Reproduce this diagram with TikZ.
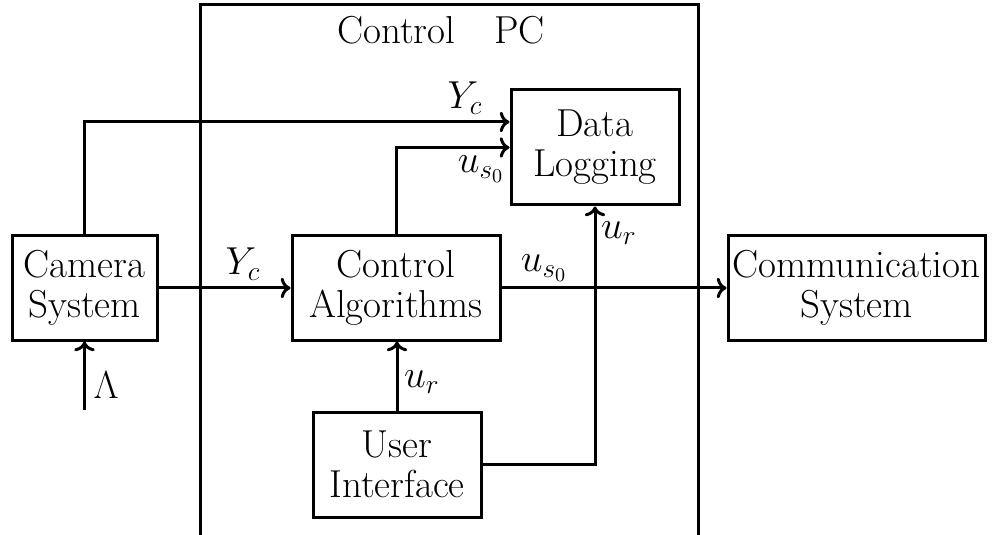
\documentclass[tikz,border=0pt]{standalone}
\usepackage{fix-cm}
\usetikzlibrary{arrows.meta}
\begin{document}
\begin{tikzpicture}[x=0.5pt,y=-0.5pt,
  line width=1.5pt,
  every node/.style={font=\fontsize{19.5}{20}\selectfont},
  block/.style={draw, rectangle, align=center, inner sep=0pt},
  sig/.style={->},
  lbl/.style={inner sep=0pt}]
\useasboundingbox (0,0) rectangle (992,535);

% Control PC enclosure (open at the bottom)
\draw (200,537) -- (200,5) -- (698,5) -- (698,537);
\node[lbl] (pc) at (441,30) {Control\quad PC};

% blocks
\node[block, minimum width=72.5pt, minimum height=52pt] (cam) at (84.5,288) {Camera\\System};
\node[block, minimum width=104pt, minimum height=52pt] (alg) at (396,288) {Control\\Algorithms};
\node[block, minimum width=84pt, minimum height=57.5pt] (log) at (595,147.5) {Data\\Logging};
\node[block, minimum width=84pt, minimum height=52.5pt] (ui) at (397,464.5) {User\\Interface};
\node[block, minimum width=128.5pt, minimum height=52pt] (comm) at (856.5,288) {Communication\\System};
\coordinate (lam) at (84.5,410);

% signals
\draw[sig] (lam) -- (cam.south);
\draw[sig] (cam.east) -- (alg.west);
\draw[sig] (cam.north) |- (log.west |- 0,122);
\draw[sig] (alg.north) |- (log.west);
\draw[sig] (alg.east) -- (comm.west);
\draw[sig] (ui.north) -- (ui.north |- alg.south);
\draw[sig] (ui.east) -| (log.south);

% signal labels
\node[lbl] (l1) at (106,385) {$\Lambda$};
\node[lbl] (l2) at (243,264) {$Y_c$};
\node[lbl] (l3) at (465,98) {$Y_c$};
\node[lbl] (l4) at (481,169) {$u_{s_0}$};
\node[lbl] (l5) at (544,268) {$u_{s_0}$};
\node[lbl] (l6) at (422,382) {$u_r$};
\node[lbl] (l7) at (619,233) {$u_r$};
\end{tikzpicture}
\end{document}
